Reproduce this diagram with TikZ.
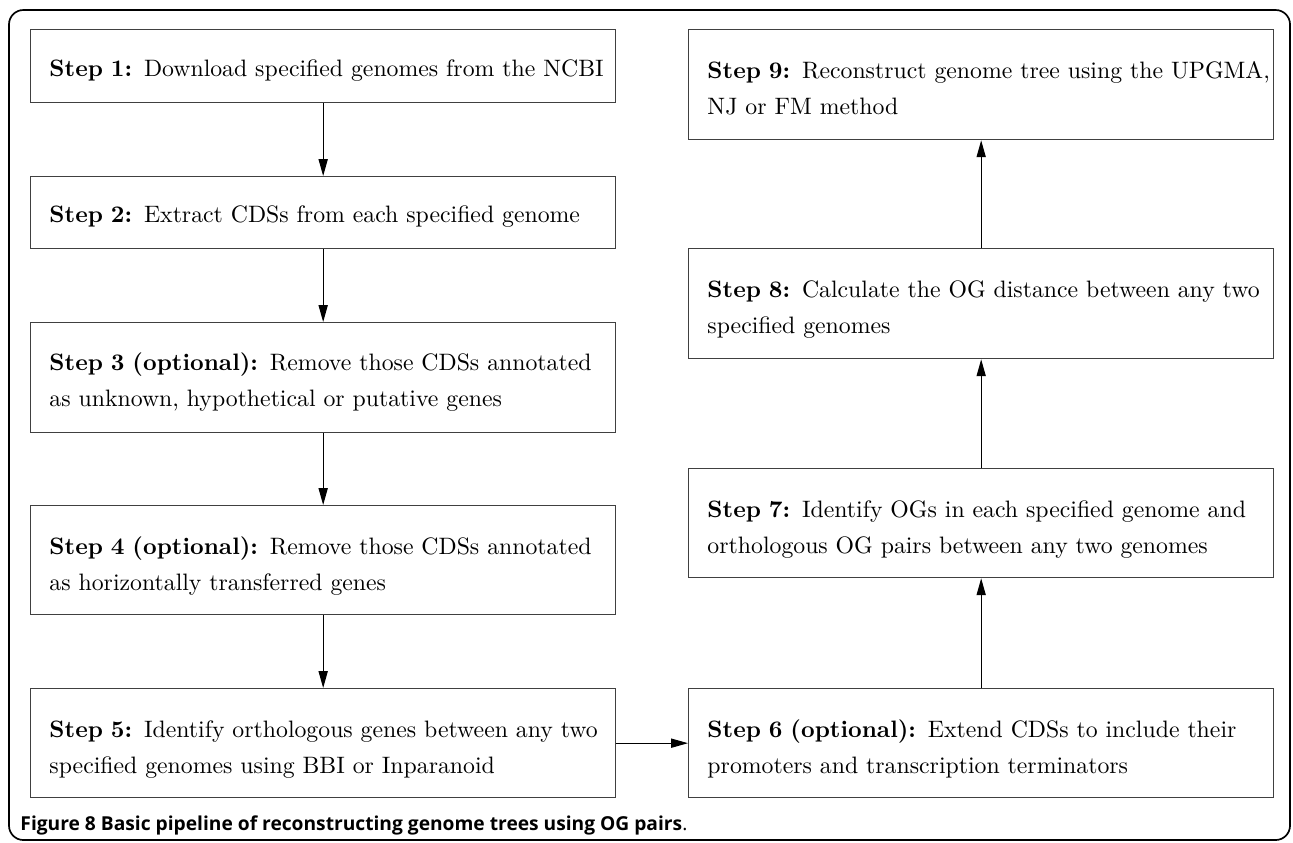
\documentclass[tikz,border=0pt]{standalone}
\usepackage{fontspec}
\newfontfamily\capfont{Open Sans}
\usetikzlibrary{arrows.meta}
\def\u{0.41667pt}
\tikzset{
  stepbox/.style={draw=black!75, line width=0.55pt, minimum width=585*\u, anchor=north west, inner sep=0pt},
  steptext/.style={anchor=base west, inner sep=0pt, align=left, text width=570*\u, font=\fontsize{9.9}{15.4}\selectfont},
  flow/.style={draw=black, line width=0.45pt, -{Triangle[length=7pt,width=3.8pt]}},
  frame/.style={draw=black, line width=0.7pt, rounded corners=6pt}
}
\begin{document}
\begin{tikzpicture}[x=\u, y=-\u]
\useasboundingbox (0,0) rectangle (1293,842);
\draw[frame] (9,10) rectangle (1290,840);
% left column
\node[stepbox, minimum height=73*\u]  (s1) at (30,29)  {};
\node[stepbox, minimum height=72*\u]  (s2) at (30,176) {};
\node[stepbox, minimum height=110*\u] (s3) at (30,322) {};
\node[stepbox, minimum height=109*\u] (s4) at (30,505) {};
\node[stepbox, minimum height=109*\u] (s5) at (30,688) {};
% right column
\node[stepbox, minimum height=109*\u] (s6) at (688,688) {};
\node[stepbox, minimum height=109*\u] (s7) at (688,468) {};
\node[stepbox, minimum height=110*\u] (s8) at (688,248) {};
\node[stepbox, minimum height=110*\u] (s9) at (688,29)  {};
% texts
\node[steptext] (t1) at (49,76)  {\textbf{Step 1:} Download specified genomes from the NCBI};
\node[steptext] (t2) at (49,222) {\textbf{Step 2:} Extract CDSs from each specified genome};
\node[steptext] (t3) at (49,370) {\textbf{Step 3 (optional):} Remove those CDSs annotated\\as unknown, hypothetical or putative genes};
\node[steptext] (t4) at (49,554) {\textbf{Step 4 (optional):} Remove those CDSs annotated\\as horizontally transferred genes};
\node[steptext] (t5) at (49,737) {\textbf{Step 5:} Identify orthologous genes between any two\\specified genomes using BBI or Inparanoid};
\node[steptext] (t6) at (707,737) {\textbf{Step 6 (optional):} Extend CDSs to include their\\promoters and transcription terminators};
\node[steptext] (t7) at (707,517) {\textbf{Step 7:} Identify OGs in each specified genome and\\orthologous OG pairs between any two genomes};
\node[steptext] (t8) at (707,297) {\textbf{Step 8:} Calculate the OG distance between any two\\specified genomes};
\node[steptext] (t9) at (707,78)  {\textbf{Step 9:} Reconstruct genome tree using the UPGMA,\\NJ or FM method};
% connectors
\draw[flow] (s1.south) -- (s2.north);
\draw[flow] (s2.south) -- (s3.north);
\draw[flow] (s3.south) -- (s4.north);
\draw[flow] (s4.south) -- (s5.north);
\draw[flow] (s5.east) -- (s6.west);
\draw[flow] (s6.north) -- (s7.south);
\draw[flow] (s7.north) -- (s8.south);
\draw[flow] (s8.north) -- (s9.south);
% caption
\node[anchor=base west, inner sep=0pt] (cap) at (20,830) {\capfont\fontsize{8.0}{10}\selectfont\bfseries Figure 8 Basic pipeline of reconstructing genome trees using OG pairs\mdseries.};
\end{tikzpicture}
\end{document}
